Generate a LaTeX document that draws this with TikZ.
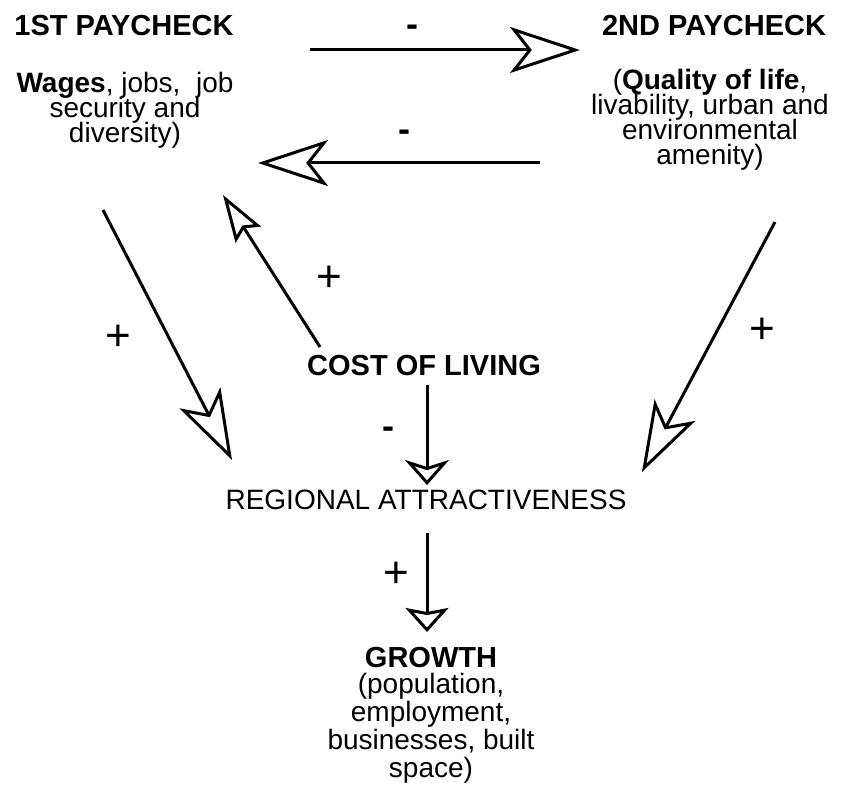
\documentclass[tikz,border=0pt]{standalone}
\usepackage{fontspec}
\setmainfont{Liberation Sans}
\usetikzlibrary{arrows.meta}
\newcommand\tightlines{\lineskiplimit=-20pt\relax}

\begin{document}
\begin{tikzpicture}[
  x=0.5pt, y=-0.5pt,
  every node/.style={font=\fontsize{14}{12.5}\selectfont\tightlines, inner sep=0pt},
  txt/.style={align=center, anchor=base},
  head/.style={font=\fontsize{14.5}{12.5}\selectfont\bfseries, anchor=base},
  sign/.style={font=\fontsize{22}{22}\selectfont},
  dash sign/.style={font=\fontsize{18}{18}\selectfont\bfseries},
  link/.style={line width=1.5pt},
  bighead/.style={-{Stealth[open, length=35pt, width=23pt, inset=9pt]}},
  midhead/.style={-{Stealth[open, length=23.5pt, width=15pt, inset=3.75pt]}},
  flathead/.style={-{Stealth[open, length=12.5pt, width=22pt, inset=3.5pt]}}
]
  \useasboundingbox (0,0) rectangle (841,786);

  % headings and texts
  \node[head] (pay1) at (124,36) {1ST PAYCHECK};
  \node[txt] (pay1txt) at (125,143) {\textbf{Wages}, jobs,~ job\\security and\\diversity)};
  \node[head] (pay2) at (714,36) {2ND PAYCHECK};
  \node[txt] (pay2txt) at (710,165) {(\textbf{Quality of life},\\livability, urban and\\environmental\\amenity)};
  \node[head] (cost) at (424,375) {COST OF LIVING};
  \node[txt] (attr) at (426,509) {REGIONAL ATTRACTIVENESS};
  \node[head] (growth) at (431,667) {GROWTH};
  \node[txt, font=\fontsize{14}{14}\selectfont\tightlines] (growthtxt) at (431,777)
    {(population,\\employment,\\businesses, built\\space)};

  % arrow ends
  \coordinate (p1-r) at (310,50);   \coordinate (p2-l) at (580,50);
  \coordinate (p2-b) at (540,163);  \coordinate (p1-b) at (258,163);
  \coordinate (p1-d) at (103,210);  \coordinate (at-l) at (232,460);
  \coordinate (p2-d) at (775,222);  \coordinate (at-r) at (642,472);
  \coordinate (co-u) at (320,347);  \coordinate (p1-c) at (223,195);
  \coordinate (co-d) at (427,385);  \coordinate (at-t) at (427,485);
  \coordinate (at-d) at (427,533);  \coordinate (gr-t) at (427,632);

  % connectors
  \draw[link, bighead] (p1-r) -- (p2-l);
  \draw[link, bighead] (p2-b) -- (p1-b);
  \draw[link, bighead] (p1-d) -- (at-l);
  \draw[link, bighead] (p2-d) -- (at-r);
  \draw[link, midhead] (co-u) -- (p1-c);
  \draw[link, flathead] (co-d) -- (at-t);
  \draw[link, -{Stealth[open, length=12pt, width=21.5pt, inset=2pt]}] (at-d) -- (gr-t);

  % signs
  \node[dash sign] (s1) at (412,31) {-};
  \node[dash sign] (s2) at (404,136) {-};
  \node[sign] (s3) at (118,338) {+};
  \node[sign] (s4) at (329,279) {+};
  \node[sign] (s5) at (762,331) {+};
  \node[dash sign] (s6) at (388,433) {-};
  \node[sign] (s7) at (396,575) {+};
\end{tikzpicture}
\end{document}
